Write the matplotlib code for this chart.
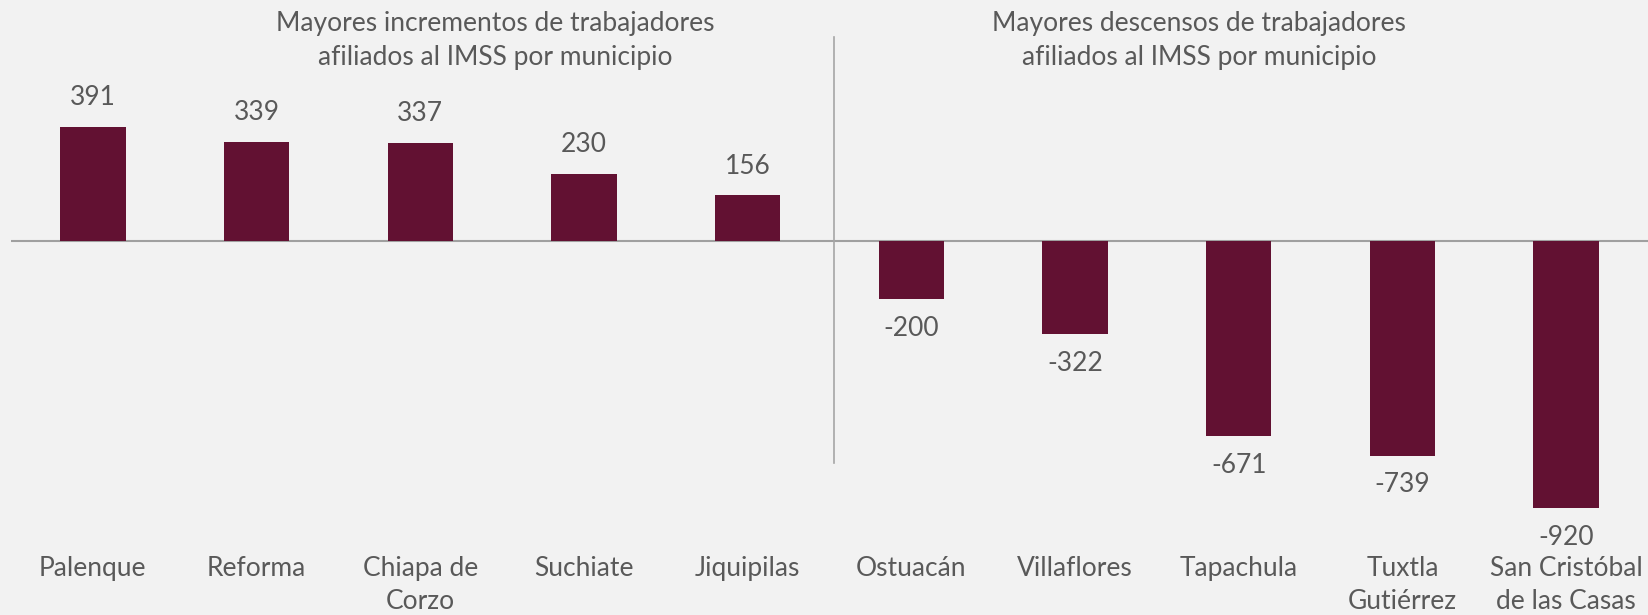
import numpy as np
import matplotlib.pyplot as plt

# Datos
municipios = ['Palenque', 'Reforma', 'Chiapa de\nCorzo', 'Suchiate', 'Jiquipilas',
              'Ostuacán', 'Villaflores', 'Tapachula', 'Tuxtla\nGutiérrez',
              'San Cristóbal\nde las Casas']
valores = [391, 339, 337, 230, 156, -200, -322, -671, -739, -920]
titulo_izq = 'Mayores incrementos de trabajadores\nafiliados al IMSS por municipio'
titulo_der = 'Mayores descensos de trabajadores\nafiliados al IMSS por municipio'

fondo = '#F2F2F2'
color_barra = '#621132'
color_texto = '#595959'

plt.rcParams['font.family'] = ['Lato', 'DejaVu Sans']

fig = plt.figure(figsize=(16.48, 6.15), dpi=100, facecolor=fondo)
ax = fig.add_axes([11 / 1648, 70 / 615, 1637 / 1648, 545 / 615])
ax.set_facecolor(fondo)

x = np.arange(len(municipios))
barras = ax.bar(x, valores, width=0.40, color=color_barra, zorder=2)

for xi, v in zip(x, valores):
    off = 21 if v > 0 else -21
    ax.annotate(str(v), (xi, v), xytext=(0, off), textcoords='offset points',
                ha='center', va='center', fontsize=19, color=color_texto)

ax.axhline(0, color='#A0A0A0', lw=1.5, zorder=1)
ax.plot([4.53, 4.53], [700, -765], color='#A6A6A6', lw=1.2, zorder=1)

ax.text(2.46, 688, titulo_izq, ha='center', va='center', fontsize=19,
        color=color_texto, linespacing=1.42)
ax.text(6.756, 688, titulo_der, ha='center', va='center', fontsize=19,
        color=color_texto, linespacing=1.42)

ax.set_xlim(-0.5, 9.5)
ax.set_ylim(-1045.7, 827.1)
ax.set_xticks(x)
ax.set_xticklabels(municipios, fontsize=19, color=color_texto, linespacing=1.4)
ax.tick_params(axis='x', length=0, pad=8)
ax.set_yticks([])
for s in ax.spines.values():
    s.set_visible(False)

fig.savefig('out.png', dpi=100, facecolor=fondo)
